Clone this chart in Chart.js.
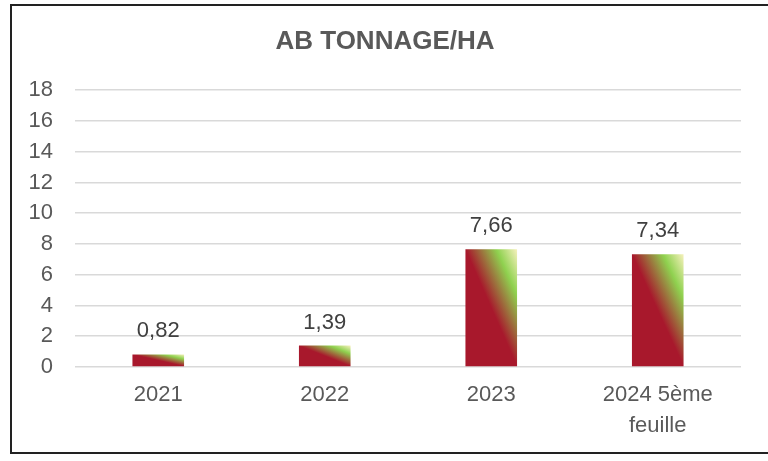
<!DOCTYPE html>
<html>
<head>
<meta charset="utf-8">
<script src="https://cdn.jsdelivr.net/npm/chart.js@4/dist/chart.umd.min.js"></script>
<style>
	html, body { margin: 0; padding: 0; background: #fff; overflow: hidden; }
	#wrap { position: relative; width: 768px; height: 461px; }
	#frame {
		position: absolute; left: 10px; top: 4px; width: 780px; height: 450px;
		box-sizing: border-box; border: 2px solid #222; border-right: none;
		pointer-events: none;
	}
</style>
</head>
<body>
<div id="wrap">
	<canvas id="tonnageChart" width="768" height="461"></canvas>
	<div id="frame"></div>
</div>
<script>
// données rendement AB (t/ha)
const annees = ['2021', '2022', '2023', ['2024 5ème', 'feuille']];
const tonnage = [0.82, 1.39, 7.66, 7.34];
const yTicks = [0, 2, 4, 6, 8, 10, 12, 14, 16, 18];

const GRIS = '#595959';
const POLICE = "'Liberation Sans', Arial, sans-serif";

// dégradé diagonal rouge -> vert -> jaune pâle, calé sur chaque barre
const barGradient = {
	id: 'barGradient',
	beforeDatasetsDraw(chart) {
		const ctx = chart.ctx;
		chart.getDatasetMeta(0).data.forEach(bar => {
			const x0 = bar.x - bar.width / 2, x1 = bar.x + bar.width / 2;
			const y0 = bar.y, y1 = bar.base;
			const w = x1 - x0, h = y1 - y0;
			const cx = (x0 + x1) / 2, cy = (y0 + y1) / 2;
			const k = w * h / (w * w + h * h);
			const g = ctx.createLinearGradient(cx - h * k, cy + w * k, cx + h * k, cy - w * k);
			g.addColorStop(0, '#a8182c');
			g.addColorStop(0.5, '#a8182c');
			g.addColorStop(0.8, '#8fd14f');
			g.addColorStop(1, '#f6f1bd');
			bar.options.backgroundColor = g;
		});
	}
};

// étiquettes de valeur au-dessus des barres
const valeurs = {
	id: 'valeurs',
	afterDatasetsDraw(chart) {
		const ctx = chart.ctx;
		ctx.save();
		ctx.font = '22px ' + POLICE;
		ctx.fillStyle = '#404040';
		ctx.textAlign = 'center';
		ctx.textBaseline = 'alphabetic';
		chart.getDatasetMeta(0).data.forEach((bar, i) => {
			const txt = tonnage[i].toFixed(2).replace('.', ',');
			ctx.fillText(txt, bar.x, bar.y - 17);
		});
		ctx.restore();
	}
};

new Chart(document.getElementById('tonnageChart'), {
	type: 'bar',
	data: {
		labels: annees,
		datasets: [{
			data: tonnage,
			// scriptable => options propres à chaque barre (pour le dégradé)
			backgroundColor: () => '#a8182c',
			borderWidth: 0,
			barPercentage: 0.31,
			categoryPercentage: 1
		}]
	},
	options: {
		responsive: false,
		animation: false,
		layout: { padding: { left: 29, right: 27, top: 0, bottom: 22 } },
		plugins: {
			legend: { display: false },
			tooltip: { enabled: false },
			title: {
				display: true,
				text: 'AB TONNAGE/HA',
				color: GRIS,
				font: { family: POLICE, size: 26, weight: 'bold', lineHeight: 1.2 },
				padding: { top: 26, bottom: 33 }
			}
		},
		scales: {
			x: {
				afterFit(scale) { scale.height = 72; },
				border: { display: false },
				grid: { display: false, drawTicks: false },
				ticks: {
					color: GRIS,
					font: { family: POLICE, size: 22, lineHeight: 1.4 },
					padding: 13,
					maxRotation: 0,
					autoSkip: false
				}
			},
			y: {
				min: 0,
				max: 18,
				afterBuildTicks(scale) {
					scale.ticks = yTicks.map(v => ({ value: v }));
				},
				afterFit(scale) { scale.width = 46; },
				border: { display: false },
				grid: { color: '#d9d9d9', lineWidth: 1.5, drawTicks: false },
				ticks: {
					color: GRIS,
					font: { family: POLICE, size: 22 },
					padding: 22
				}
			}
		}
	},
	plugins: [barGradient, valeurs]
});
</script>
</body>
</html>
